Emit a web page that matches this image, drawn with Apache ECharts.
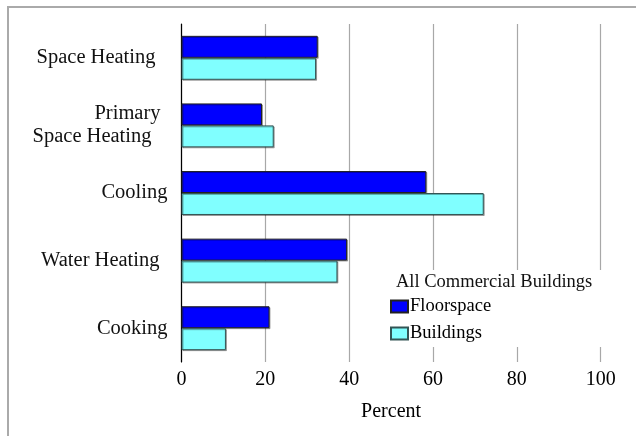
<!DOCTYPE html>
<html>
<head>
<meta charset="utf-8">
<script src="https://cdn.jsdelivr.net/npm/echarts@6/dist/echarts.min.js"></script>
<style>html,body{margin:0;padding:0;background:#fff;}#c{width:636px;height:436px;}</style>
</head>
<body>
<div id="c"></div>
<script>
var categories = ['Space Heating', 'Primary\nSpace Heating', 'Cooling', 'Water Heating', 'Cooking'];
var floorspace = [32.5, 19.2, 58.4, 39.5, 21.0];
var buildings = [32.1, 22.0, 72.1, 37.2, 10.6];
var xTicks = [0, 20, 40, 60, 80, 100];
var seriesNames = ['Floorspace', 'Buildings'];
var legendTitle = 'All Commercial Buildings';
var axisName = 'Percent';

var FONT = 'Liberation Serif';
function rs(pad) {
  return {fontFamily: FONT, fontSize: 20.5, color: '#111', padding: [0, pad, 0, 0], lineHeight: 23};
}

var chart = echarts.init(document.getElementById('c'), null, {renderer: 'canvas'});
chart.setOption({
  animation: false,
  backgroundColor: '#fff',
  grid: {left: 181.5, right: 35.3, top: 24, bottom: 74},
  xAxis: {
    type: 'value', min: xTicks[0], max: xTicks[xTicks.length - 1], interval: 20,
    axisLine: {show: false}, axisTick: {show: false},
    splitLine: {show: true, lineStyle: {color: '#a8a8a8', width: 1.2}},
    axisLabel: {color: '#000', fontFamily: FONT, fontSize: 20, margin: 8},
    name: axisName, nameLocation: 'middle', nameGap: 40,
    nameTextStyle: {color: '#000', fontFamily: FONT, fontSize: 20}
  },
  yAxis: {
    type: 'category', inverse: true, data: categories,
    axisLine: {show: true, lineStyle: {color: '#000', width: 1.2}},
    axisTick: {show: false},
    axisLabel: {
      color: '#111', fontFamily: FONT, fontSize: 20.5, margin: 14, lineHeight: 23,
      formatter: function (v, i) {
        if (v.indexOf('\n') >= 0) {
          var parts = v.split('\n');
          return '{p1|' + parts[0] + '}\n{p2|' + parts[1] + '}';
        }
        return '{c' + i + '|' + v + '}';
      },
      rich: {
        c0: rs(12), p1: rs(7), p2: rs(16), c2: rs(0), c3: rs(8), c4: rs(0)
      }
    }
  },
  legend: {
    orient: 'vertical', left: 390, top: 297, padding: 0, itemGap: 8,
    itemWidth: 17, itemHeight: 12, icon: 'rect', z: 20,
    data: seriesNames,
    textStyle: {color: '#000', fontFamily: FONT, fontSize: 18.5, padding: [0, 0, 0, -3]}
  },
  title: {
    text: legendTitle, left: 396, top: 273, padding: 0, z: 20,
    textStyle: {color: '#111', fontFamily: FONT, fontSize: 18.5, fontWeight: 'normal'}
  },
  graphic: [
    {type: 'rect', z: 10, shape: {x: 385, y: 270, width: 222, height: 77}, style: {fill: '#fff'}},
    {type: 'rect', z: 1, shape: {x: 8, y: 7, width: 700, height: 500}, style: {fill: 'none', stroke: '#aaa', lineWidth: 2}}
  ],
  series: [
    {name: seriesNames[0], type: 'bar', data: floorspace, barGap: '0%', barCategoryGap: '35%',
     itemStyle: {color: '#0000ff', borderColor: '#222', borderWidth: 1, shadowColor: 'rgba(0,0,0,0.3)', shadowOffsetX: 1, shadowOffsetY: 1}},
    {name: seriesNames[1], type: 'bar', data: buildings, barGap: '0%', barCategoryGap: '35%',
     itemStyle: {color: '#80ffff', borderColor: '#335555', borderWidth: 1, shadowColor: 'rgba(0,0,0,0.3)', shadowOffsetX: 1, shadowOffsetY: 1}}
  ]
});
</script>
</body>
</html>
